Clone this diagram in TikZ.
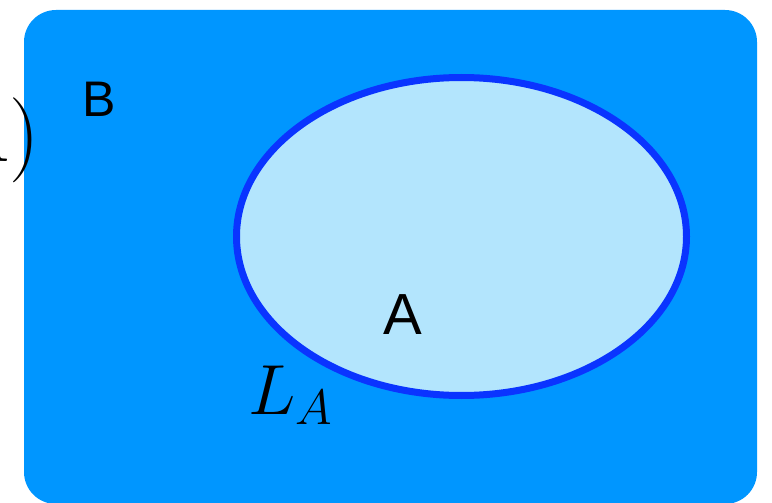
\RequirePackage{fix-cm}
\documentclass[tikz,border=0pt]{standalone}
\usepackage{fontspec}
\newfontfamily\helv{Liberation Sans}
\definecolor{outerblue}{HTML}{0096FF}
\definecolor{innerblue}{HTML}{B3E5FD}
\definecolor{rimblue}{HTML}{0A34FF}
\tikzset{
  setlabel/.style={inner sep=0pt, font=\helv, text=black},
  mathlabel/.style={inner sep=0pt, text=black}
}
\begin{document}
\begin{tikzpicture}[x=1pt,y=-1pt]
\useasboundingbox (0,0) rectangle (772,503);
\clip (0,0) rectangle (772,503);
\fill[white] (0,0) rectangle (772,503);
\fill[outerblue, rounded corners=32pt] (24,10) rectangle (757,504);
\draw[rimblue, fill=innerblue, line width=7pt] (461.5,236.5) ellipse [x radius=225, y radius=159];
\node[setlabel, anchor=base, font=\helv\fontsize{50}{56}\selectfont] (B) at (99.5,117) {B};
\node[setlabel, anchor=base, font=\helv\fontsize{58}{64}\selectfont] (A) at (403,334) {A};
\node[mathlabel, anchor=base west, font=\fontsize{71}{76}\selectfont] (LA) at (248,414) {$L_A$};
\node[mathlabel, anchor=base east, font=\fontsize{85}{90}\selectfont] (paren) at (40,161) {$A)$};
\end{tikzpicture}
\end{document}
